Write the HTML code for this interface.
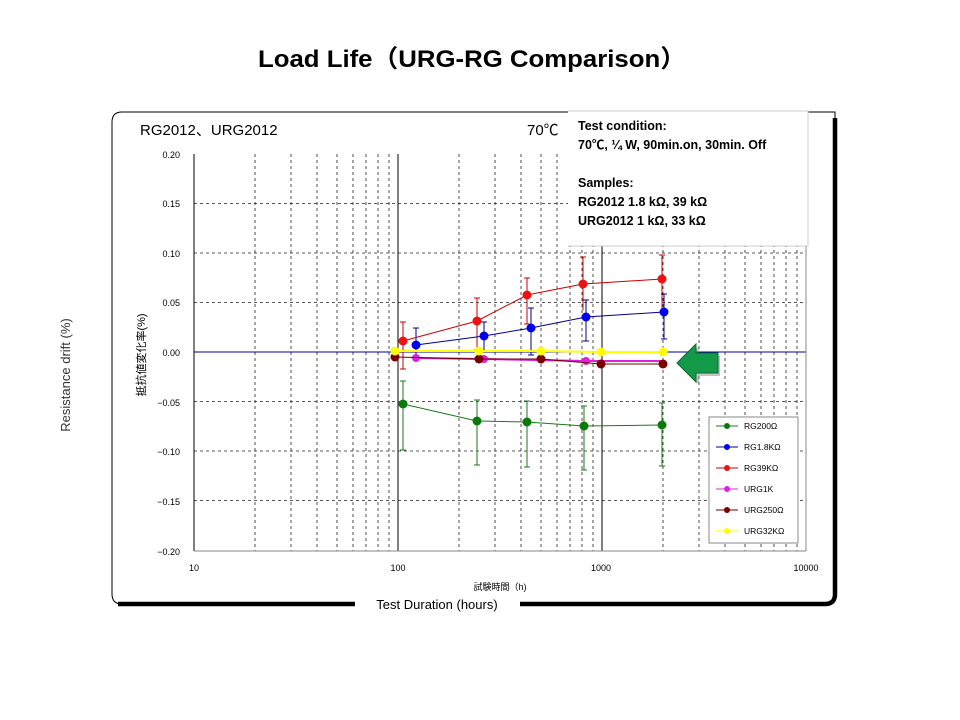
<!DOCTYPE html>
<html><head><meta charset="utf-8"><style>
body{margin:0;background:#fff;}
svg{display:block;}
text{font-family:"Liberation Sans","Noto Sans CJK JP",sans-serif;}
</style></head><body>
<svg width="960" height="720" viewBox="0 0 960 720" xmlns="http://www.w3.org/2000/svg">
<rect width="960" height="720" fill="#fff"/>
<text x="472" y="67" text-anchor="middle" font-size="24.5" font-weight="bold" textLength="428" lengthAdjust="spacingAndGlyphs" font-family="Liberation Sans, Noto Sans CJK JP, sans-serif">Load Life（URG-RG Comparison）</text>

<path d="M122,112 H835 V594 Q835,604 825,604 H122 Q112,604 112,594 V122 Q112,112 122,112 Z" fill="#fff" stroke="#000" stroke-width="1"/>
<path d="M835,118 V594 Q835,604 825,604 H118" fill="none" stroke="#000" stroke-width="4.5"/>

<text x="140" y="135" font-size="15">RG2012、URG2012</text>
<text x="527" y="135" font-size="15">70℃</text>

<g stroke="#222" stroke-width="0.8" stroke-dasharray="3,3">
<line x1="255" y1="154" x2="255" y2="551"/><line x1="291" y1="154" x2="291" y2="551"/><line x1="317" y1="154" x2="317" y2="551"/><line x1="337" y1="154" x2="337" y2="551"/><line x1="353" y1="154" x2="353" y2="551"/><line x1="366" y1="154" x2="366" y2="551"/><line x1="378" y1="154" x2="378" y2="551"/><line x1="389" y1="154" x2="389" y2="551"/>
<line x1="459" y1="154" x2="459" y2="551"/><line x1="495" y1="154" x2="495" y2="551"/><line x1="521" y1="154" x2="521" y2="551"/><line x1="541" y1="154" x2="541" y2="551"/><line x1="557" y1="154" x2="557" y2="551"/><line x1="570" y1="154" x2="570" y2="551"/><line x1="582" y1="154" x2="582" y2="551"/><line x1="593" y1="154" x2="593" y2="551"/>
<line x1="663" y1="154" x2="663" y2="551"/><line x1="699" y1="154" x2="699" y2="551"/><line x1="725" y1="154" x2="725" y2="551"/><line x1="745" y1="154" x2="745" y2="551"/><line x1="761" y1="154" x2="761" y2="551"/><line x1="774" y1="154" x2="774" y2="551"/><line x1="786" y1="154" x2="786" y2="551"/><line x1="797" y1="154" x2="797" y2="551"/>
<line x1="194" y1="203.6" x2="806" y2="203.6"/><line x1="194" y1="253" x2="806" y2="253"/><line x1="194" y1="302.6" x2="806" y2="302.6"/><line x1="194" y1="401.6" x2="806" y2="401.6"/><line x1="194" y1="451" x2="806" y2="451"/><line x1="194" y1="500.6" x2="806" y2="500.6"/>
</g>
<line x1="398" y1="154" x2="398" y2="551" stroke="#000"/>
<line x1="602" y1="154" x2="602" y2="551" stroke="#000"/>
<line x1="194" y1="352" x2="806" y2="352" stroke="#00008b"/>
<path d="M194,154 V551" fill="none" stroke="#000"/>
<line x1="194" y1="551" x2="806" y2="551" stroke="#888"/>
<line x1="806" y1="154" x2="806" y2="551" stroke="#888"/>

<g font-size="9" text-anchor="end">
<text x="180" y="158">0.20</text><text x="180" y="207">0.15</text><text x="180" y="257">0.10</text><text x="180" y="306">0.05</text><text x="180" y="356">0.00</text><text x="180" y="406">−0.05</text><text x="180" y="455">−0.10</text><text x="180" y="505">−0.15</text><text x="180" y="555">−0.20</text>
</g>
<g font-size="9" text-anchor="middle">
<text x="194" y="571">10</text><text x="398" y="571">100</text><text x="601" y="571">1000</text><text x="806" y="571">10000</text>
</g>
<text x="500" y="590" font-size="9" text-anchor="middle">試験時間（h)</text>
<text transform="translate(145,355) rotate(-90)" font-size="11" text-anchor="middle">抵抗値変化率(%)</text>
<text transform="translate(70,375) rotate(-90)" font-size="13" fill="#333" text-anchor="middle">Resistance drift (%)</text>
<rect x="355" y="597" width="165" height="16" fill="#fff"/>
<text x="437" y="609" font-size="13" text-anchor="middle">Test Duration (hours)</text>

<g stroke="#1a7a1a" stroke-width="1">
<path d="M403,381V450M400,381h6M400,450h6 M477,400V465M474,400h6M474,465h6 M527,401V467M524,401h6M524,467h6 M584,406V470M581,406h6M581,470h6 M662,403V466M659,403h6M659,466h6"/>
</g>
<g stroke="#c00" stroke-width="1">
<path d="M403,322V369M400,322h6M400,369h6 M477,298V350M474,298h6M474,350h6 M527,278V324M524,278h6M524,324h6 M583,257V310M580,257h6 M662,255V310M659,255h6"/>
</g>
<g stroke="#00008b" stroke-width="1">
<path d="M416,328V357M413,328h6M413,357h6 M484,322V352M481,322h6M481,352h6 M531,308V355M528,308h6M528,355h6 M586,300V341M583,300h6M583,341h6 M664,294V339M661,294h6M661,339h6"/>
</g>

<polyline points="403,404 477,421 527,422 584,426 662,425" fill="none" stroke="#1a7a1a"/>
<g fill="#0a7a0a"><circle cx="403" cy="404" r="4.5"/><circle cx="477" cy="421" r="4.5"/><circle cx="527" cy="422" r="4.5"/><circle cx="584" cy="426" r="4.5"/><circle cx="662" cy="425" r="4.5"/></g>
<polyline points="416,345 484,336 531,328 586,317 664,312" fill="none" stroke="#00008b"/>
<g fill="#0000ee"><circle cx="416" cy="345" r="4.5"/><circle cx="484" cy="336" r="4.5"/><circle cx="531" cy="328" r="4.5"/><circle cx="586" cy="317" r="4.5"/><circle cx="664" cy="312" r="4.5"/></g>
<polyline points="403,341 477,321 527,295 583,284 662,279" fill="none" stroke="#c00"/>
<g fill="#ee1111"><circle cx="403" cy="341" r="4.5"/><circle cx="477" cy="321" r="4.5"/><circle cx="527" cy="295" r="4.5"/><circle cx="583" cy="284" r="4.5"/><circle cx="662" cy="279" r="4.5"/></g>
<polyline points="416,358 484,359 586,361 601,361 663,361" fill="none" stroke="#e020e0" stroke-width="2"/>
<g fill="#e020e0"><circle cx="416" cy="358" r="4"/><circle cx="484" cy="359" r="4"/><circle cx="586" cy="361" r="4"/></g>
<polyline points="395,357 479,359 541,359 601,364 663,364" fill="none" stroke="#6b0000"/>
<g fill="#7a0000"><circle cx="395" cy="357" r="4.5"/><circle cx="479" cy="359" r="4.5"/><circle cx="541" cy="359" r="4.5"/><circle cx="601" cy="364" r="4.5"/><circle cx="663" cy="364" r="4.5"/></g>
<polyline points="395,351 479,351 541,351 601,352 663,352" fill="none" stroke="#ffff00" stroke-width="2"/>
<g fill="#ffff00"><circle cx="395" cy="351" r="4.5"/><circle cx="479" cy="351" r="4.5"/><circle cx="541" cy="351" r="4.5"/><circle cx="601" cy="352" r="4.5"/><circle cx="663" cy="352" r="4.5"/></g>

<polygon points="680,365 699,346 699,356 720,356 720,376 699,376 699,385" fill="#888" opacity="0.5"/>
<polygon points="677,363 696,344 696,353 718,353 718,373 696,373 696,382" fill="#139a48" stroke="#0b6a30" stroke-width="1"/>

<rect x="709" y="417" width="89" height="126" fill="#fff" stroke="#888"/>
<g font-size="8.5">
<line x1="716" y1="426" x2="738" y2="426" stroke="#1a7a1a"/><circle cx="727" cy="426" r="3" fill="#0a7a0a"/><text x="744" y="429">RG200Ω</text>
<line x1="716" y1="447" x2="738" y2="447" stroke="#00008b"/><circle cx="727" cy="447" r="3" fill="#0000ee"/><text x="744" y="450">RG1.8KΩ</text>
<line x1="716" y1="468" x2="738" y2="468" stroke="#c00"/><circle cx="727" cy="468" r="3" fill="#ee1111"/><text x="744" y="471">RG39KΩ</text>
<line x1="716" y1="489" x2="738" y2="489" stroke="#e020e0"/><circle cx="727" cy="489" r="3" fill="#e020e0"/><text x="744" y="492">URG1K</text>
<line x1="716" y1="510" x2="738" y2="510" stroke="#6b0000"/><circle cx="727" cy="510" r="3" fill="#7a0000"/><text x="744" y="513">URG250Ω</text>
<line x1="716" y1="531" x2="738" y2="531" stroke="#ffff00"/><circle cx="727" cy="531" r="3" fill="#ffff00"/><text x="744" y="534">URG32KΩ</text>
</g>

<rect x="568" y="110" width="240" height="136" fill="#fff"/>
<path d="M568,111 H808 V246 H568" fill="none" stroke="#ccc"/>
<g font-size="12.5" font-weight="bold" font-family="Liberation Sans, DejaVu Sans, sans-serif">
<text x="578" y="130">Test condition:</text>
<text x="578" y="149">70℃, ¼ W, 90min.on, 30min. Off</text>
<text x="578" y="187">Samples:</text>
<text x="578" y="206">RG2012 1.8 kΩ, 39 kΩ</text>
<text x="578" y="225">URG2012 1 kΩ, 33 kΩ</text>
</g>
</svg>
</body></html>
